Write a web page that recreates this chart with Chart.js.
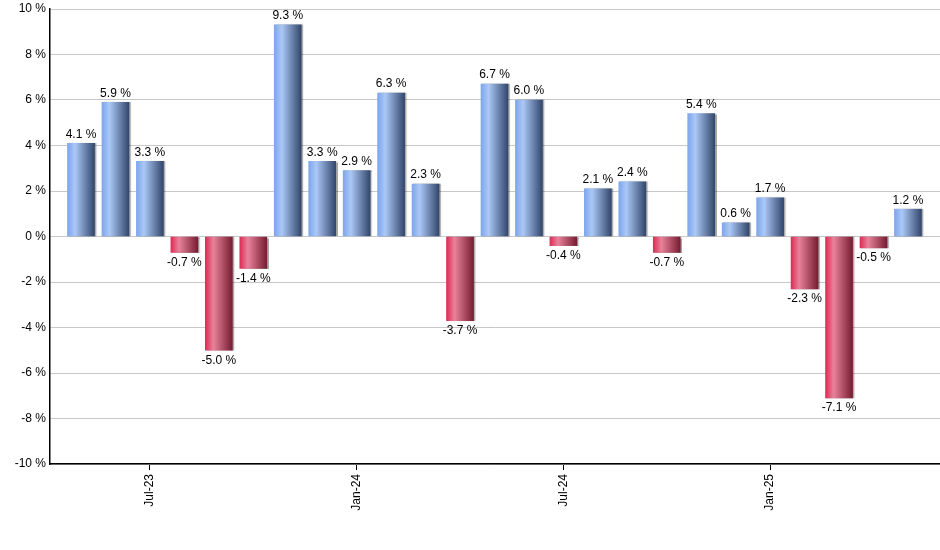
<!DOCTYPE html>
<html>
<head>
<meta charset="utf-8">
<script src="https://cdn.jsdelivr.net/npm/chart.js@4.4.1/dist/chart.umd.min.js"></script>
<style>
  html, body { margin: 0; padding: 0; background: #fff; }
  #wrap { width: 940px; height: 550px; }
</style>
</head>
<body>
<div id="wrap"><canvas id="barChart" width="940" height="550"></canvas></div>
<script>
// monthly returns, May-23 .. May-25
var months = ["May-23", "Jun-23", "Jul-23", "Aug-23", "Sep-23", "Oct-23", "Nov-23", "Dec-23",
              "Jan-24", "Feb-24", "Mar-24", "Apr-24", "May-24", "Jun-24", "Jul-24", "Aug-24",
              "Sep-24", "Oct-24", "Nov-24", "Dec-24", "Jan-25", "Feb-25", "Mar-25", "Apr-25", "May-25"];
var returns = [4.1, 5.9, 3.3, -0.7, -5.0, -1.4, 9.3, 3.3, 2.9, 6.3, 2.3, -3.7, 6.7, 6.0,
               -0.4, 2.1, 2.4, -0.7, 5.4, 0.6, 1.7, -2.3, -7.1, -0.5, 1.2];
var shownTicks = [2, 8, 14, 20]; // Jul-23, Jan-24, Jul-24, Jan-25
var yTicks = [-10, -8, -6, -4, -2, 0, 2, 4, 6, 8, 10];

var points = [];
for (var i = 0; i < returns.length; ++i) {
    points.push({ x: i, y: returns[i] });
}

var barW = 27;
var font = "'Liberation Sans', Arial, sans-serif";

function barColor(context) {
    var chart = context.chart;
    var v = returns[context.dataIndex];
    if (!chart.chartArea) {
        return v >= 0 ? "#7fa3e0" : "#c8385a";
    }
    var cx = chart.scales.x.getPixelForValue(context.dataIndex);
    var g = chart.ctx.createLinearGradient(cx - barW / 2, 0, cx + barW / 2, 0);
    if (v >= 0) {
        g.addColorStop(0, "#7ea6ec");
        g.addColorStop(0.28, "#abc8f6");
        g.addColorStop(1, "#33476c");
    } else {
        g.addColorStop(0, "#dd2c55");
        g.addColorStop(0.3, "#e8829b");
        g.addColorStop(1, "#761d31");
    }
    return g;
}

// values over / under the bars
var valueLabels = {
    id: "valueLabels",
    afterDatasetsDraw: function (chart) {
        var ctx = chart.ctx;
        var meta = chart.getDatasetMeta(0);
        ctx.save();
        ctx.font = "12px " + font;
        ctx.fillStyle = "#000";
        ctx.textAlign = "center";
        meta.data.forEach(function (bar, i) {
            var v = returns[i];
            var txt = v.toFixed(1) + " %";
            if (v >= 0) {
                ctx.textBaseline = "bottom";
                ctx.fillText(txt, bar.x, bar.y - 3);
            } else {
                ctx.textBaseline = "top";
                ctx.fillText(txt, bar.x, bar.y + 4);
            }
        });
        ctx.restore();
    }
};

// small shadow at the right of the bars
var barShadow = {
    id: "barShadow",
    beforeDatasetsDraw: function (chart) {
        var ctx = chart.ctx;
        ctx.save();
        ctx.shadowColor = "rgba(0,0,0,0.35)";
        ctx.shadowOffsetX = 1.5;
        ctx.shadowOffsetY = 0;
        ctx.shadowBlur = 1;
    },
    afterDatasetsDraw: function (chart) {
        chart.ctx.restore();
    }
};

new Chart("barChart", {
    type: "bar",
    data: {
        datasets: [{
            data: points,
            backgroundColor: barColor,
            barThickness: barW,
            borderWidth: 0
        }]
    },
    plugins: [barShadow, valueLabels],
    options: {
        responsive: false,
        animation: false,
        layout: {
            padding: { top: 9, right: 0, left: 0, bottom: 0 }
        },
        plugins: {
            legend: { display: false },
            tooltip: { enabled: false }
        },
        scales: {
            x: {
                type: "linear",
                min: -0.9,
                max: 24.93,
                offset: false,
                afterBuildTicks: function (scale) {
                    scale.ticks = shownTicks.map(function (v) { return { value: v }; });
                },
                afterFit: function (scale) {
                    scale.height = 86;
                },
                grid: {
                    offset: false,
                    drawOnChartArea: false,
                    drawTicks: true,
                    tickLength: 6,
                    color: "#000"
                },
                border: { color: "#000", width: 1.5 },
                ticks: {
                    autoSkip: false,
                    minRotation: 90,
                    maxRotation: 90,
                    padding: 4,
                    color: "#000",
                    font: { family: font, size: 12 },
                    callback: function (v) { return months[v]; }
                }
            },
            y: {
                min: -10,
                max: 10,
                afterBuildTicks: function (scale) {
                    scale.ticks = yTicks.map(function (v) { return { value: v }; });
                },
                afterFit: function (scale) {
                    scale.width = 50;
                    scale.paddingTop = 0;
                },
                grid: {
                    color: "#c8c8c8",
                    drawTicks: false
                },
                border: { color: "#000", width: 1.5 },
                ticks: {
                    padding: 4,
                    color: "#000",
                    font: { family: font, size: 12, lineHeight: 1 },
                    callback: function (v) { return v + " %"; }
                }
            }
        }
    }
});
</script>
</body>
</html>
